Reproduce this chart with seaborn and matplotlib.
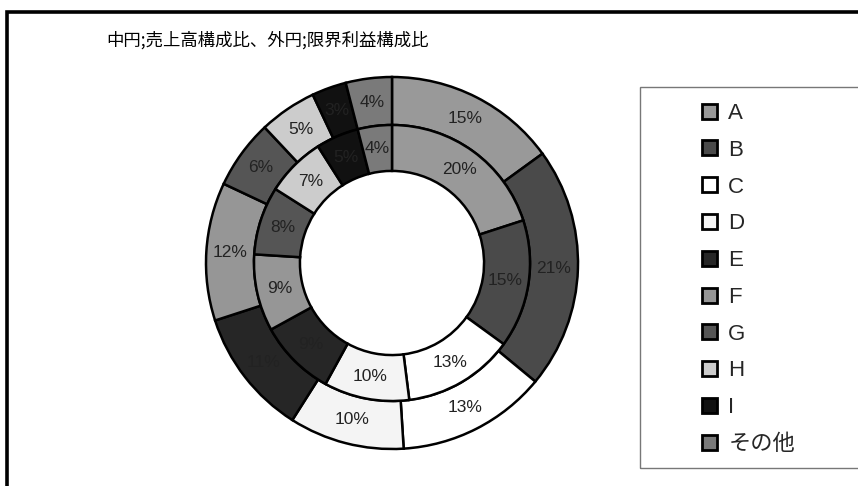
import matplotlib
matplotlib.use("Agg")
import matplotlib.pyplot as plt
import seaborn as sns
import numpy as np
from matplotlib.patches import Rectangle, Patch

categories = ["A", "B", "C", "D", "E", "F", "G", "H", "I", "その他"]
sales_share = [20, 15, 13, 10, 9, 9, 8, 7, 5, 4]          # inner ring
profit_share = [15, 21, 13, 10, 11, 12, 6, 5, 3, 4]       # outer ring
title = "中円;売上高構成比、外円;限界利益構成比"

colors = ["#999999", "#4a4a4a", "#ffffff", "#f4f4f4", "#262626",
          "#969696", "#555555", "#cccccc", "#111111", "#7a7a7a"]

sns.set_theme(style="white")
plt.rcParams['font.family'] = ['Liberation Sans', 'Noto Sans CJK JP', 'DejaVu Sans']

W, H = 858, 486
fig = plt.figure(figsize=(W / 100, H / 100), dpi=100)
fig.patch.set_facecolor("white")

# outer chart frame
fig.patches.append(Rectangle((7 / W, -0.1), 1.2, (H - 12) / H + 0.1, transform=fig.transFigure,
                             fill=False, edgecolor="black", linewidth=2.6))

cx, cy, R = 392, 223, 186
ax = fig.add_axes([(cx - R) / W, (cy - R) / H, 2 * R / W, 2 * R / H])
ax.set_xlim(-1, 1)
ax.set_ylim(-1, 1)
ax.set_aspect("equal")
ax.axis("off")

r_out, r_mid, r_hole = 1.0, 0.742, 0.495
wp = dict(edgecolor="black", linewidth=1.8)
outer, _ = ax.pie(profit_share, radius=r_out, colors=colors, startangle=90, counterclock=False,
                  wedgeprops=dict(width=r_out - r_mid, **wp))
inner, _ = ax.pie(sales_share, radius=r_mid, colors=colors, startangle=90, counterclock=False,
                  wedgeprops=dict(width=r_mid - r_hole, **wp))
ax.set_xlim(-1, 1)
ax.set_ylim(-1, 1)

def annotate(wedges, vals, rad):
    for w, v in zip(wedges, vals):
        ang = np.deg2rad((w.theta1 + w.theta2) / 2)
        ax.text(rad * np.cos(ang), rad * np.sin(ang), f"{v}%", ha="center", va="center",
                fontsize=12.5, color="#222222")

annotate(outer, profit_share, (r_out + r_mid) / 2)
annotate(inner, sales_share, (r_mid + r_hole) / 2)

fig.text(268 / W, 1 - 40 / H, title, ha="center", va="center", fontsize=12.5,
         family=['Noto Sans CJK JP', 'DejaVu Sans'], color="black")

# legend frame
fig.patches.append(Rectangle((640 / W, 1 - 468 / H), 0.5, (468 - 87) / H, transform=fig.transFigure,
                             fill=False, edgecolor="#777777", linewidth=1.0))
handles = [Patch(facecolor=c, edgecolor="black", linewidth=2.0) for c in colors]
leg = fig.legend(handles, categories, loc="upper left", bbox_to_anchor=(702 / W, 1 - 103 / H),
                 frameon=False, handlelength=0.66, handleheight=0.66,
                 handletextpad=0.52, labelspacing=0.71, borderpad=0, borderaxespad=0,
                 prop={'family': ['Liberation Sans', 'Noto Sans CJK JP'], 'size': 16})

fig.savefig("out.png", dpi=100, facecolor="white")
